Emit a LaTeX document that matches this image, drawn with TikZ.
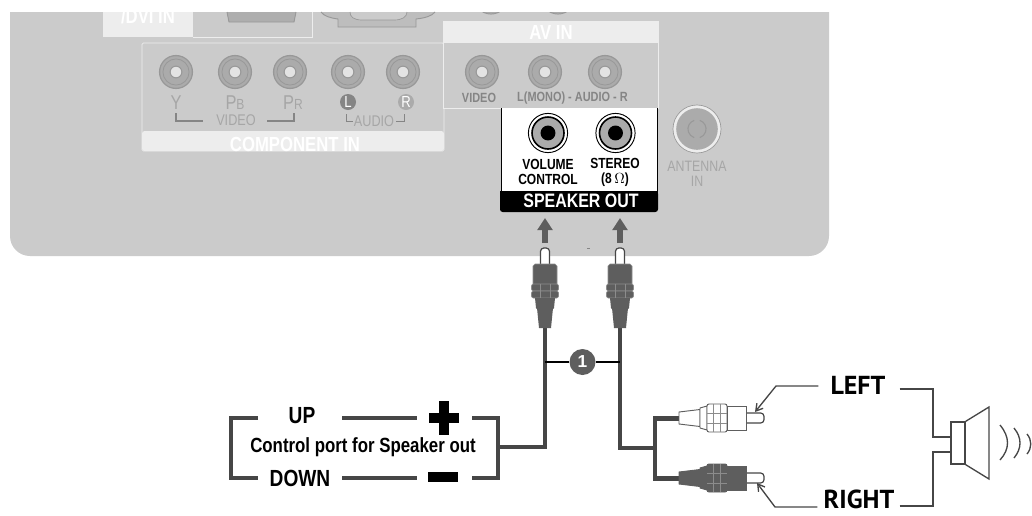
\documentclass[tikz,border=0pt]{standalone}
\usepackage{fontspec}
\setmainfont{Liberation Sans}
\newfontfamily\narrowfont[FakeStretch=0.82]{Liberation Sans}
\newfontfamily\labelfont{PT Sans}
\usepackage{xcolor}
\usetikzlibrary{positioning,arrows.meta}
\definecolor{panelgray}{HTML}{CBCBCB}
\definecolor{striplight}{HTML}{EDEDED}
\definecolor{jackgray}{HTML}{ABABAB}
\definecolor{jackedge}{HTML}{989898}
\definecolor{fadetext}{HTML}{A6A6A6}
\definecolor{midtext}{HTML}{858585}
\definecolor{cabledark}{HTML}{464646}
\definecolor{plugdark}{HTML}{5E5E5E}
\definecolor{plugline}{HTML}{8C8C8C}
\tikzset{
  stripbox/.style={draw=striplight,line width=0.6pt,fill=panelgray},
  faded/.style={font=\narrowfont\fontsize{11.6}{12}\selectfont,text=fadetext,inner sep=0pt},
  fadedbig/.style={font=\narrowfont\fontsize{15}{15}\selectfont,text=fadetext,inner sep=0pt},
  striptext/.style={font=\narrowfont\bfseries\fontsize{15.3}{16}\selectfont,text=white,inner sep=0pt},
  avtext/.style={font=\narrowfont\bfseries\fontsize{10}{10}\selectfont,text=midtext,inner sep=0pt},
  badgetext/.style={font=\narrowfont\fontsize{12}{12}\selectfont,text=white,inner sep=0pt},
  stronglabel/.style={font=\narrowfont\bfseries\fontsize{11}{11.25}\selectfont,inner sep=0pt},
  cable/.style={draw=cabledark,line width=3.6pt},
  bracket/.style={draw=cabledark,line width=3pt},
  leader/.style={draw=cabledark,line width=1pt},
  bigword/.style={font=\narrowfont\bfseries\fontsize{17.5}{18}\selectfont,inner sep=0pt},
  sideword/.style={font=\labelfont\bfseries\fontsize{19.5}{20}\selectfont,inner sep=0pt},
}
\newcommand{\fadedjack}[1]{
  \fill[jackedge] (#1) circle (12.8pt);
  \fill[jackgray] (#1) circle (11.8pt);
  \draw[jackedge,line width=0.6pt] (#1) circle (9.8pt);
  \draw[jackedge,line width=0.8pt,fill=striplight!85!jackgray] (#1) circle (4.4pt);
}
\newcommand{\speakerjack}[1]{
  \draw[black,line width=0.7pt,fill=white] (#1) circle (14.7pt);
  \draw[black,line width=1.2pt,fill=jackgray] (#1) circle (12pt);
  \fill[black] (#1) circle (5.6pt);
}
% plug standing on its cable, x is the centre, y the tip top
\newcommand{\upplug}[1]{
  \begin{scope}[shift={(#1,0)}]
    \draw[cabledark,line width=0.9pt,fill=white,rounded corners=2.5pt] (-4.5,266) -- (-4.5,248) -- (4.5,248) -- (4.5,266);
    \draw[plugline,line width=0.5pt,fill=plugdark] (-12,285) -- (-12,266) -- (-10,264) -- (10,264) -- (12,266) -- (12,285) -- cycle;
    \draw[plugline,line width=0.5pt,fill=plugdark,rounded corners=1.5pt] (-13.5,284) rectangle (13.5,291);
    \draw[plugline,line width=0.5pt,fill=plugdark,rounded corners=1.5pt] (-13.5,291) rectangle (13.5,298);
    \draw[plugline,line width=0.5pt] (-5,284) -- (-5,298) (5,284) -- (5,298);
    \fill[plugdark] (-10,298) -- (10,298) -- (9,308) -- (-9,308) -- cycle;
    \draw[plugline,line width=0.4pt] (-9,308) -- (9,308);
    \fill[plugdark] (-8,308) -- (8,308) -- (6,328) -- (-6,328) -- cycle;
  \end{scope}
}
% plug lying on its side, y is the centre
\newcommand{\sideplug}[4]{
  \begin{scope}[shift={(0,#1)}]
    \draw[cabledark,line width=0.9pt,fill=white,rounded corners=2.5pt] (744,-5) -- (764,-5) -- (764,5) -- (744,5);
    \draw[#3,line width=0.7pt,fill=#2] (679,-6) -- (700,-8.5) -- (700,8.5) -- (679,6) -- cycle;
    \draw[#3,line width=0.7pt,fill=#2] (700,-10) -- (707,-12) -- (707,12) -- (700,10) -- cycle;
    \draw[#3,line width=0.7pt,fill=#2,rounded corners=1.5pt] (707,-14) rectangle (727,14);
    \draw[#4,line width=0.5pt] (713,-14) -- (713,14) (720,-14) -- (720,14) (707,-5) -- (727,-5) (707,5) -- (727,5);
    \draw[#3,line width=0.7pt,fill=#2] (727,-12) rectangle (746,12);
  \end{scope}
}
\begin{document}
\begin{tikzpicture}[x=0.75pt,y=-0.75pt,>={Stealth[length=2mm]}]
\useasboundingbox (0,0) rectangle (1032,515);
% back panel
\fill[panelgray,rounded corners=15pt] (10,-40) rectangle (829,256);
\fill[white] (0,0) rectangle (1032,12);
% top row, cut off by the page edge
\fill[striplight] (103,12) rectangle (193,37);
\draw[striplight,line width=0.6pt] (193,37) -- (312,37) -- (312,12);
\draw[jackedge,line width=0.7pt,fill=jackgray!90!panelgray] (227,12) -- (229,22) -- (294,22) -- (296,12);
\draw[jackedge,line width=0.7pt,fill=jackgray!45!panelgray] (321,12) .. controls (324,16) and (330,18) .. (338,19) -- (338,27) -- (416,27) -- (416,19) .. controls (425,18) and (432,16) .. (435,12);
\draw[jackedge,line width=0.5pt,fill=panelgray] (350,12) .. controls (350,17) and (354,20) .. (362,20) -- (394,20) .. controls (402,20) and (407,17) .. (407,12);
\begin{scope}
  \clip (440,12) rectangle (600,30);
  \draw[jackedge,line width=0.7pt,fill=jackgray] (491,-3) circle (12.8pt);
  \draw[jackedge,line width=0.7pt,fill=jackgray] (558,-3) circle (12.8pt);
\end{scope}
\node[striptext] (dvilabel) at (148,16) {/DVI IN};
% component in
\draw[stripbox,rounded corners=1pt] (142,43) rectangle (444,151);
\fill[striplight,rounded corners=2pt] (142,131) rectangle (444,151);
\node[striptext] (componentlabel) at (295,144) {COMPONENT IN};
\foreach \jx in {176,235,290,348,403} {\fadedjack{\jx,72}}
\node[fadedbig] (ylabel) at (176,103) {Y};
\node[fadedbig] (pblabel) at (235,103) {P{\fontsize{11}{11}\selectfont B}};
\node[fadedbig] (prlabel) at (293,103) {P{\fontsize{11}{11}\selectfont R}};
\fill[midtext] (348,102) circle (6pt);
\fill[jackgray] (406,102) circle (6pt);
\node[badgetext] (llabel) at (348,102) {L};
\node[badgetext] (rlabel) at (406,102) {R};
\node[faded] (videolabel) at (236,120) {VIDEO};
\node[faded] (audiolabel) at (374,121) {AUDIO};
\draw[midtext,line width=1.1pt] (176,113) -- (176,121) -- (203,121);
\draw[midtext,line width=1.1pt] (294,113) -- (294,121) -- (267,121);
\draw[midtext,line width=0.6pt] (346,114) -- (346,121) -- (353,121);
\draw[midtext,line width=0.6pt] (404,114) -- (404,121) -- (396,121);
% av in
\draw[stripbox] (443,21) rectangle (658,108);
\fill[striplight] (443,21) rectangle (658,43);
\node[striptext] (avlabel) at (551,32) {AV IN};
\foreach \jx in {482,545,605} {\fadedjack{\jx,72}}
\node[avtext] (avvideo) at (479,98) {VIDEO};
\node[avtext] (avaudio) at (572.5,98) {L(MONO) - AUDIO - R};
% speaker out
\fill[white] (501,108) rectangle (657,192);
\fill[black,rounded corners=2pt] (500,191) rectangle (658,212);
\fill[black] (500,191) rectangle (658,200);
\draw[black,line width=0.6pt] (501,108) -- (501,192) (657,108) -- (657,192);
\speakerjack{548,133}
\speakerjack{615.5,133}
\node[stronglabel,align=center] (volumelabel) at (548,172) {VOLUME\\CONTROL};
\node[stronglabel,align=center] (stereolabel) at (615,172) {STEREO\\(8\,$\Omega$)};
\node[font=\narrowfont\bfseries\fontsize{14.6}{15}\selectfont,text=white,inner sep=0pt] (speakerlabel) at (581,201) {SPEAKER OUT};
% antenna
\draw[jackedge,line width=0.5pt,fill=striplight] (697,129) circle (18pt);
\fill[jackgray] (697,129) circle (15.6pt);
\draw[jackedge,line width=0.8pt] (697,129) +(72:6.8pt) arc (72:-72:6.8pt);
\draw[jackedge,line width=0.8pt] (697,129) +(108:6.8pt) arc (108:252:6.8pt);
\node[align=center,font=\narrowfont\fontsize{11.3}{11.3}\selectfont,text=fadetext,inner sep=0pt] (antennalabel) at (697,174) {ANTENNA\\IN};
% arrows to the jacks
\foreach \ax/\name in {545/volarrow,620/sterarrow} {
  \coordinate (\name s) at (\ax,243);
  \coordinate (\name e) at (\ax,218);
  \draw[-{Stealth[length=9pt,width=11pt,inset=0pt]},plugdark,line width=4.4pt] (\name s) -- (\name e);
}
\fill[midtext] (587,248) rectangle (590,248.7);
% cables and plugs
\coordinate (volbottom) at (545,328);
\coordinate (sterbottom) at (620,328);
\coordinate (portend) at (498,447);
\coordinate (branch) at (655,448);
\coordinate (leftend) at (680,418.5);
\coordinate (rightend) at (680,478.5);
\draw[cable] (volbottom) |- (portend);
\draw[cable] (sterbottom) |- (branch);
\draw[cable] (leftend) -| (branch) |- (rightend);
\upplug{545}
\upplug{620}
\sideplug{418}{white}{plugdark}{plugline}
\sideplug{478}{plugdark}{plugdark}{plugline}
% numbered tie
\node[circle,fill=plugdark,minimum size=19.5pt,inner sep=0pt,text=white,font=\bfseries\fontsize{13}{13}\selectfont] (tie) at (582.5,362) {1};
\draw[black,line width=1.6pt] (tie) -- (545,362);
\draw[black,line width=1.6pt] (tie) -- (620,362);
% control port
\node[bigword] (uplabel) at (302,416) {UP};
\node[bigword] (downlabel) at (300,478) {DOWN};
\node[font=\narrowfont\bfseries\fontsize{15.4}{16}\selectfont,inner sep=0pt] (portlabel) at (363,447) {Control port for Speaker out};
\coordinate (ulbr) at (258,418);
\coordinate (dlbr) at (258,478);
\coordinate (urbr) at (472,418);
\coordinate (drbr) at (472,478);
\coordinate (upline) at (417,418);
\coordinate (downline) at (417,478);
\draw[bracket] (ulbr) -- (231,418) -- (231,478) -- (dlbr);
\draw[bracket] (urbr) -- (498,418) -- (498,478) -- (drbr);
\node[inner sep=0pt,minimum width=22pt,minimum height=7pt,fill=black] (plusbar) at (444,418) {};
\node[inner sep=0pt,minimum width=7.5pt,minimum height=26pt,fill=black] (plusstem) at (444,418) {};
\node[inner sep=0pt,minimum width=22pt,minimum height=7pt,fill=black] (minusbar) at (443,477) {};
\draw[bracket] (342,418) -- (upline);
\draw[bracket] (342,478) -- (downline);
% speaker
\node[sideword] (leftlabel) at (858,385) {LEFT};
\node[sideword] (rightlabel) at (859,499) {RIGHT};
\node[draw=cabledark,line width=1pt,inner sep=0pt,minimum width=10.5pt,minimum height=31.5pt] (driver) at (958,443) {};
\draw[cabledark,line width=1pt] (driver.north east) -- (989,407) -- (989,479) -- (driver.south east);
\coordinate (leftin) at ([yshift=4.5pt]driver.west);
\coordinate (rightin) at ([yshift=-6.75pt]driver.west);
\draw[leader] (leftlabel.east) ++(14,4) -| (933,437) -- (leftin);
\draw[leader] (rightlabel.east) ++(5,7) -| (933,452) -- (rightin);
\draw[leader,-{Straight Barb[length=5pt,width=6pt]}] (leftlabel.west) ++(-12,1) -- (776,386) -- (755,412);
\draw[leader,-{Straight Barb[length=5pt,width=6pt]}] (rightlabel.west) ++(-6,8) -- (775,507) -- (757,483);
\draw[cabledark,line width=1pt] (1000,425) .. controls (1010,437) and (1010,449) .. (1000,460);
\draw[cabledark,line width=1pt] (1014,428) .. controls (1022,438) and (1022,448) .. (1014,458);
\draw[cabledark,line width=1pt] (1027,434) .. controls (1032,440) and (1032,448) .. (1027,454);
\end{tikzpicture}
\end{document}
